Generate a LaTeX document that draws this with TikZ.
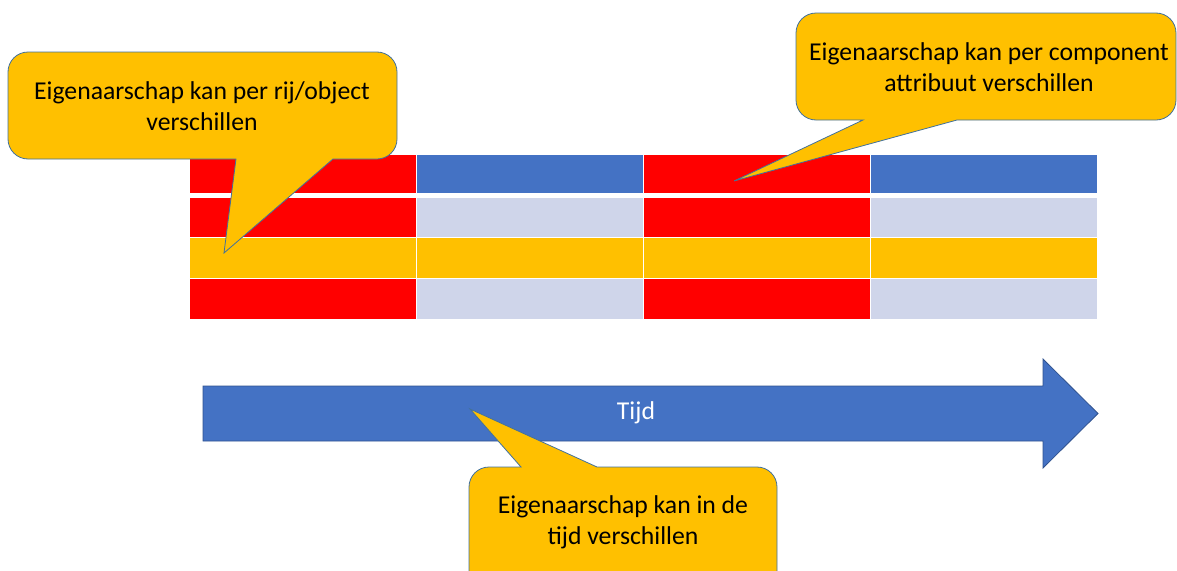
\documentclass[tikz,border=0pt]{standalone}
\usepackage{fontspec}
\setmainfont{Carlito}
\usetikzlibrary{positioning}
\definecolor{ownred}{HTML}{FF0000}
\definecolor{ownblue}{HTML}{4472C4}
\definecolor{ownlight}{HTML}{CFD5EA}
\definecolor{ownorange}{HTML}{FFC000}
\definecolor{ownline}{HTML}{41719C}
\definecolor{arrowline}{HTML}{2F528F}
\tikzset{
	callout/.style={fill=ownorange, draw=ownline, line width=0.8pt},
	cell/.style={draw=white, line width=1pt},
	calltext/.style={align=center, inner sep=0pt, font=\fontsize{25.7}{31}\selectfont}
}

\begin{document}
\begin{tikzpicture}[x=1pt,y=-1pt]
		\useasboundingbox (0,0) rectangle (1177,570);
		%\draw[gray,step=50] (0,0) grid (1177,570);
		% table
		\filldraw[cell, fill=ownred] (189,154) rectangle (416,193);
		\filldraw[cell, fill=ownblue] (416,154) rectangle (643,193);
		\filldraw[cell, fill=ownred] (643,154) rectangle (870,193);
		\filldraw[cell, fill=ownblue] (870,154) rectangle (1097,193);
		\filldraw[cell, fill=ownred] (189,197) rectangle (416,237);
		\filldraw[cell, fill=ownlight] (416,197) rectangle (643,237);
		\filldraw[cell, fill=ownred] (643,197) rectangle (870,237);
		\filldraw[cell, fill=ownlight] (870,197) rectangle (1097,237);
		\filldraw[cell, fill=ownorange] (189,237) rectangle (416,278);
		\filldraw[cell, fill=ownorange] (416,237) rectangle (643,278);
		\filldraw[cell, fill=ownorange] (643,237) rectangle (870,278);
		\filldraw[cell, fill=ownorange] (870,237) rectangle (1097,278);
		\filldraw[cell, fill=ownred] (189,278) rectangle (416,319);
		\filldraw[cell, fill=ownlight] (416,278) rectangle (643,319);
		\filldraw[cell, fill=ownred] (643,278) rectangle (870,319);
		\filldraw[cell, fill=ownlight] (870,278) rectangle (1097,319);
		% callouts above the table
		\draw[callout] (224,253) -- (236,159) [rounded corners=20pt] -- (8,159) -- (8,52) -- (397,52) -- (397,159) [sharp corners] -- (333,159) -- cycle;
		\draw[callout] (734,181) -- (957,120) [rounded corners=20pt] -- (1176,120) -- (1176,13) -- (796,13) -- (796,120) [sharp corners] -- (863,120) -- cycle;
		\node[calltext] (perrow) at (202,106) {Eigenaarschap kan per rij/object\\verschillen};
		\node[calltext] (percomp) at (989,67) {Eigenaarschap kan per component\\attribuut verschillen};
		% time arrow
		\draw[fill=ownblue, draw=arrowline, line width=0.8pt] (203,386) -- (1043,386) -- (1043,359) -- (1098,413.5) -- (1043,468) -- (1043,441) -- (203,441) -- cycle;
		\node[calltext, text=white] (tijd) at (636,413) {Tijd};
		\draw[callout] (470,409) -- (597,467) [rounded corners=20pt] -- (777,467) -- (777,595) -- (469,595) -- (469,467) [sharp corners] -- (521,467) -- cycle;
		\node[calltext] (pertime) at (623,522) {Eigenaarschap kan in de\\tijd verschillen};
	\end{tikzpicture}
\end{document}
